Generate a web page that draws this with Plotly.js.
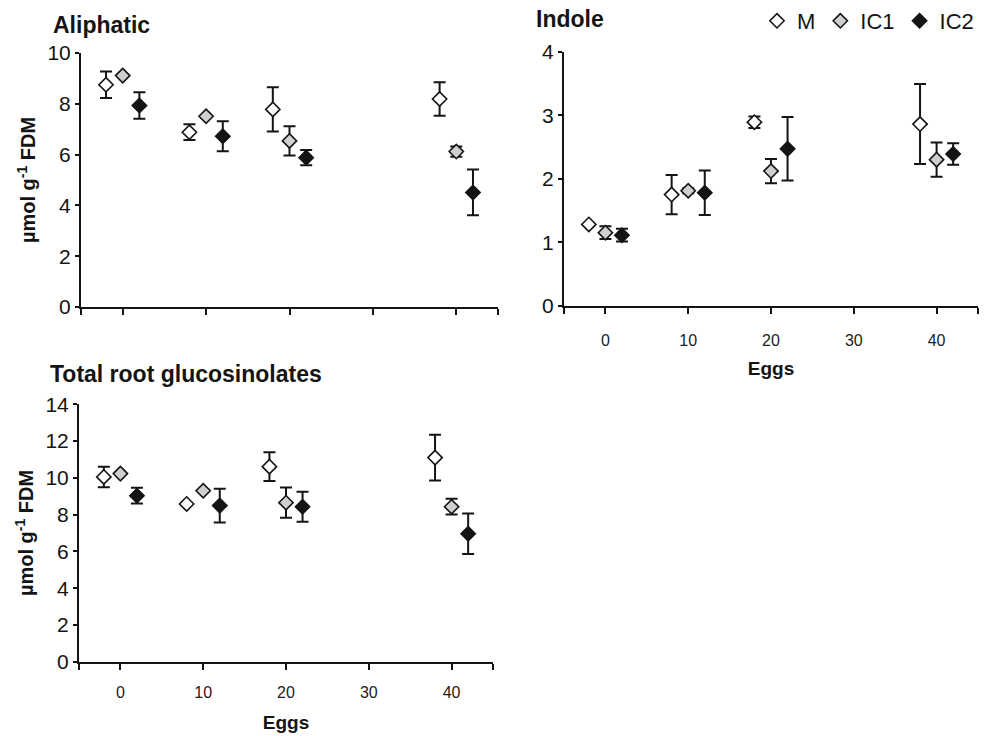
<!DOCTYPE html>
<html>
<head>
<meta charset="utf-8">
<script src="https://cdn.plot.ly/plotly-3.0.1.min.js"></script>
<style>html,body{margin:0;padding:0;background:#fff;}#chart{width:987px;height:736px;}</style>
</head>
<body>
<div id="chart"></div>
<script>
// ---- data ----
const eggs = [0, 10, 20, 40];
const seriesNames = ['M', 'IC1', 'IC2'];

const aliphM = [8.75, 6.88, 7.78, 8.19];
const aliphMErr = [0.52, 0.31, 0.87, 0.66];
const aliphIC1 = [9.11, 7.51, 6.54, 6.12];
const aliphIC1Err = [0, 0, 0.58, 0.20];
const aliphIC2 = [7.93, 6.72, 5.88, 4.51];
const aliphIC2Err = [0.52, 0.59, 0.30, 0.90];

const indoleM = [1.28, 1.75, 2.89, 2.86];
const indoleMErr = [0, 0.31, 0.09, 0.63];
const indoleIC1 = [1.15, 1.81, 2.12, 2.30];
const indoleIC1Err = [0.10, 0.04, 0.19, 0.27];
const indoleIC2 = [1.11, 1.78, 2.47, 2.39];
const indoleIC2Err = [0.10, 0.35, 0.50, 0.17];

const totalM = [10.05, 8.58, 10.61, 11.10];
const totalMErr = [0.56, 0, 0.78, 1.24];
const totalIC1 = [10.23, 9.30, 8.65, 8.43];
const totalIC1Err = [0, 0, 0.82, 0.43];
const totalIC2 = [9.03, 8.49, 8.43, 6.96];
const totalIC2Err = [0.43, 0.92, 0.82, 1.10];

const xTickVals = [0, 10, 20, 30, 40];
const xEndTicks = [-5, 45];

// ---- styling ----
const dodge = {M: -2, IC1: 0, IC2: 2};
const fills = {M: '#ffffff', IC1: '#cfcfcf', IC2: '#141414'};
const ink = '#141414';
const W = 987, H = 736;

function mk(name, ys, errs, xa, ya, showlegend) {
  return {
    type: 'scatter', mode: 'markers', name: name, legendgroup: name,
    showlegend: showlegend,
    x: eggs.map(e => e + dodge[name]), y: ys, xaxis: xa, yaxis: ya,
    error_y: {type: 'data', array: errs, visible: true, color: ink, thickness: 2, width: 6},
    marker: {symbol: 'diamond', size: 11, color: fills[name], line: {color: ink, width: 1.6}},
    cliponaxis: false
  };
}

const data = [
  mk('M', aliphM, aliphMErr, 'x', 'y', false),
  mk('IC1', aliphIC1, aliphIC1Err, 'x', 'y', false),
  mk('IC2', aliphIC2, aliphIC2Err, 'x', 'y', false),
  mk('M', indoleM, indoleMErr, 'x2', 'y2', true),
  mk('IC1', indoleIC1, indoleIC1Err, 'x2', 'y2', true),
  mk('IC2', indoleIC2, indoleIC2Err, 'x2', 'y2', true),
  mk('M', totalM, totalMErr, 'x3', 'y3', false),
  mk('IC1', totalIC1, totalIC1Err, 'x3', 'y3', false),
  mk('IC2', totalIC2, totalIC2Err, 'x3', 'y3', false)
];

function xax(left, right, anchor, labels, labelGap, titleGap) {
  const ax = {
    domain: [left / W, right / W], anchor: anchor, range: [-5, 45],
    tickmode: 'array', tickvals: xTickVals,
    showticklabels: labels, ticks: 'outside', ticklen: 6, tickwidth: 2, tickcolor: ink,
    minor: {tickmode: 'array', tickvals: xEndTicks, ticks: 'outside', ticklen: 6, tickwidth: 2, tickcolor: ink, showgrid: false},
    showline: true, linewidth: 2, linecolor: ink, showgrid: false, zeroline: false,
    tickfont: {size: 16, color: '#222'}, ticklabelstandoff: labelGap || 0
  };
  if (labels) ax.title = {text: '<b>Eggs</b>', font: {size: 19, color: ink}, standoff: titleGap};
  return ax;
}
function yax(top, bottom, anchor, max, step, title) {
  const ax = {
    domain: [1 - bottom / H, 1 - top / H], anchor: anchor, range: [0, max], dtick: step,
    ticks: 'outside', ticklen: 4, tickwidth: 2, tickcolor: ink,
    showline: true, linewidth: 2, linecolor: ink, showgrid: false, zeroline: false,
    tickfont: {size: 21, color: ink}
  };
  if (title) ax.title = {text: '<b>µmol g<sup>-1</sup> FDM</b>', font: {size: 20, color: ink}, standoff: 6};
  return ax;
}

const layout = {
  width: W, height: H,
  margin: {l: 0, r: 0, t: 0, b: 0},
  paper_bgcolor: '#fff', plot_bgcolor: 'rgba(0,0,0,0)',
  font: {family: 'Liberation Sans, Arial, sans-serif', color: ink},
  xaxis: xax(81, 498, 'y', false),
  yaxis: yax(53, 307, 'x', 10, 2, true),
  xaxis2: xax(564, 978, 'y2', true, 13, 14),
  yaxis2: yax(51.7, 305.7, 'x2', 4, 1, false),
  xaxis3: xax(79, 493, 'y3', true, 9, 16),
  yaxis3: yax(404.3, 661.7, 'x3', 14, 2, true),
  showlegend: true,
  legend: {
    orientation: 'h', x: 979 / W, xanchor: 'right', y: 1 - 21 / H, yanchor: 'middle',
    font: {size: 22, color: ink}, bgcolor: 'rgba(0,0,0,0)', itemwidth: 30, tracegroupgap: 0
  },
  annotations: [
    {text: '<b>Aliphatic</b>', xref: 'paper', yref: 'paper', x: 51 / W, y: 1 - 25 / H,
     xanchor: 'left', yanchor: 'middle', showarrow: false, font: {size: 23, color: ink}},
    {text: '<b>Indole</b>', xref: 'paper', yref: 'paper', x: 534 / W, y: 1 - 18.5 / H,
     xanchor: 'left', yanchor: 'middle', showarrow: false, font: {size: 23, color: ink}},
    {text: '<b>Total root glucosinolates</b>', xref: 'paper', yref: 'paper', x: 48 / W, y: 1 - 374 / H,
     xanchor: 'left', yanchor: 'middle', showarrow: false, font: {size: 23, color: ink}}
  ]
};

Plotly.newPlot('chart', data, layout, {displayModeBar: false, staticPlot: true});
</script>
</body>
</html>
